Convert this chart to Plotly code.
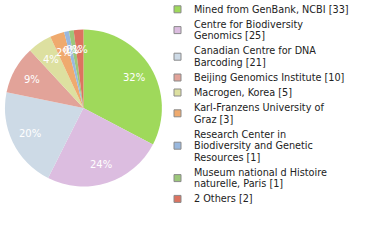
import math
import plotly.graph_objects as go

labels = ["Mined from GenBank, NCBI [33]",
          "Centre for Biodiversity<br>Genomics [25]",
          "Canadian Centre for DNA<br>Barcoding [21]",
          "Beijing Genomics Institute [10]",
          "Macrogen, Korea [5]",
          "Karl-Franzens University of<br>Graz [3]",
          "Research Center in<br>Biodiversity and Genetic<br>Resources [1]",
          "Museum national d Histoire<br>naturelle, Paris [1]",
          "2 Others [2]"]
values = [33, 25, 21, 10, 5, 3, 1, 1, 2]
colors = ["#9fd95b", "#dcbde0", "#cddae6", "#e2a399", "#dde0a0",
          "#efaa6e", "#99b8de", "#9cc77a", "#dc7360"]

total = sum(values)
texts = [f"{int(v * 100 / total)}%" for v in values]

W, H = 380, 240
dom_x = [0.013, 0.426]
dom_y = [0.221, 0.879]
fig = go.Figure(go.Pie(
    labels=labels, values=values, textinfo="none",
    sort=False, direction="clockwise", rotation=0,
    marker=dict(colors=colors, line=dict(width=0)),
    domain=dict(x=dom_x, y=dom_y),
    hoverinfo="skip", showlegend=False,
))

annotations, shapes = [], []

# slice percentage labels placed along each slice's mid angle
cx = (dom_x[0] + dom_x[1]) / 2 * W
cy = (1 - (dom_y[0] + dom_y[1]) / 2) * H
radius = min((dom_x[1] - dom_x[0]) * W, (dom_y[1] - dom_y[0]) * H) / 2
cum = 0
for v, t in zip(values, texts):
    mid = (cum + v / 2) / total * 2 * math.pi
    cum += v
    px = cx + 0.75 * radius * math.sin(mid)
    py = cy - 0.75 * radius * math.cos(mid)
    annotations.append(dict(text=t, xref="paper", yref="paper",
                            x=px / W, y=1 - py / H, xanchor="center",
                            yanchor="middle", showarrow=False,
                            font=dict(size=10, family="DejaVu Sans",
                                      color="white")))

# custom legend (layout only)
line_h = 11.6
item_gap = 3.4
y = 3.5
for lab, col in zip(labels, colors):
    lines = lab.split("<br>")
    block = len(lines) * line_h
    yc = y + block / 2
    shapes.append(dict(type="rect", xref="paper", yref="paper",
                       x0=174 / W, x1=181 / W,
                       y0=1 - (yc + 3.5) / H, y1=1 - (yc - 3.5) / H,
                       fillcolor=col, line=dict(color="#8a8a8a", width=1)))
    for i, ln in enumerate(lines):
        ly = y + (i + 0.5) * line_h
        annotations.append(dict(text=ln, xref="paper", yref="paper",
                                x=192 / W, y=1 - ly / H, xanchor="left",
                                yanchor="middle", showarrow=False,
                                font=dict(size=9.7, family="DejaVu Sans",
                                          color="#222222")))
    y += block + item_gap

fig.update_layout(
    width=W, height=H, margin=dict(l=0, r=0, t=0, b=0),
    paper_bgcolor="white", plot_bgcolor="white",
    annotations=annotations, shapes=shapes,
)
fig.write_html("out.html")
